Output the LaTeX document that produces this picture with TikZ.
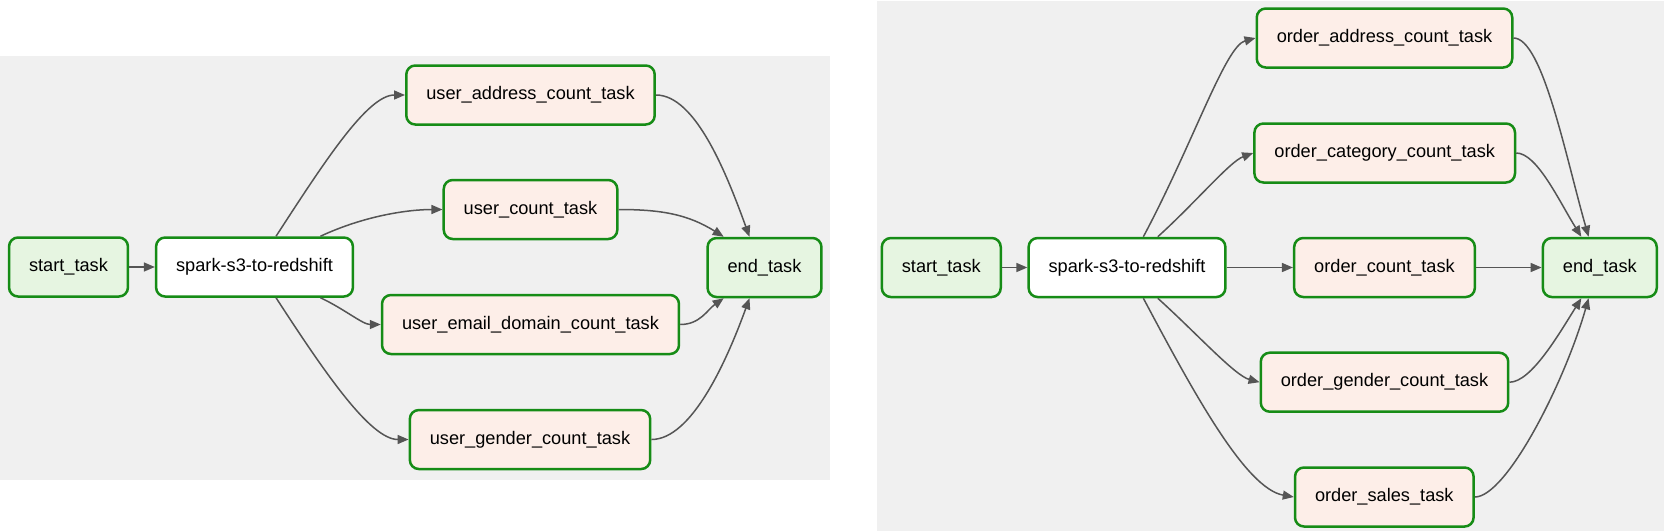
\documentclass[tikz,border=0pt]{standalone}
\usepackage{fontspec}
\setmainfont{Liberation Sans}
\usetikzlibrary{arrows.meta}
\definecolor{dagbg}{HTML}{F0F0F0}
\definecolor{taskgreen}{HTML}{168C16}
\definecolor{dummyfill}{HTML}{E6F5E1}
\definecolor{pyfill}{HTML}{FDEEE8}
\definecolor{edgegray}{HTML}{555555}
\tikzstyle{task}=[draw=taskgreen, line width=2.5pt, rounded corners=9pt, fill=pyfill, minimum height=59pt, inner xsep=20pt, text height=13pt, text depth=4pt, font=\fontsize{18.2}{22}\selectfont]
\tikzstyle{dummy}=[task, fill=dummyfill]
\tikzstyle{spark}=[task, fill=white]
\tikzstyle{dep}=[draw=edgegray, line width=1.5pt, -{Triangle[length=11pt,width=9pt]}]

\begin{document}
\begin{tikzpicture}[x=1pt, y=1pt]
	\fill[white] (0, 0) rectangle (1664, -531);
	\useasboundingbox (0, 0) rectangle (1664, -531);
	\fill[dagbg] (0, -56) rectangle (830, -480);
	\fill[dagbg] (877, -1) rectangle (1664, -531);
	\node(lstart)[dummy] at (68.5, -267) {start\_task};
	\node(lspark)[spark] at (254.5, -267) {spark-s3-to-redshift};
	\node(laddr)[task] at (530.5, -95) {user\_address\_count\_task};
	\node(lcount)[task] at (530.5, -209.5) {user\_count\_task};
	\node(lemail)[task] at (530.5, -324.5) {user\_email\_domain\_count\_task};
	\node(lgender)[task] at (530, -439.5) {user\_gender\_count\_task};
	\node(lend)[dummy] at (764.5, -267.5) {end\_task};
	\node(rstart)[dummy] at (941.3, -267.5) {start\_task};
	\node(rspark)[spark] at (1127, -267.5) {spark-s3-to-redshift};
	\node(raddr)[task] at (1384.5, -38) {order\_address\_count\_task};
	\node(rcat)[task] at (1384.7, -153) {order\_category\_count\_task};
	\node(rcount)[task] at (1384.5, -267.5) {order\_count\_task};
	\node(rgender)[task] at (1384.5, -382.2) {order\_gender\_count\_task};
	\node(rsales)[task] at (1384.3, -497) {order\_sales\_task};
	\node(rend)[dummy] at (1599.8, -267.5) {end\_task};
	\draw[dep] (lstart) -- (lspark);
	\draw[dep] (lspark.55) to[out=57, in=180, out looseness=1.2, in looseness=0.5] (laddr.west);
	\draw[dep] (lspark.25) to[out=25, in=180, in looseness=0.7] (lcount.west);
	\draw[dep] (lspark.-25) to[out=-25, in=180, in looseness=0.7] (lemail.west);
	\draw[dep] (lspark.-55) to[out=-57, in=180, out looseness=1.2, in looseness=0.5] (lgender.west);
	\draw[dep] (laddr.east) to[out=0, in=110, out looseness=0.6] (lend.116);
	\draw[dep] (lcount.east) to[out=0, in=148] (lend.143);
	\draw[dep] (lemail.east) to[out=0, in=-145] (lend.-143);
	\draw[dep] (lgender.east) to[out=0, in=-110, out looseness=0.6] (lend.-116);
	\draw[dep] (rstart) -- (rspark);
	\draw[dep] (rspark.62) to[out=62, in=195, out looseness=1.2, in looseness=0.35] (raddr.west);
	\draw[dep] (rspark.45) to[out=42, in=200, in looseness=0.5] (rcat.west);
	\draw[dep] (rspark) -- (rcount);
	\draw[dep] (rspark.-45) to[out=-42, in=165, in looseness=0.5] (rgender.west);
	\draw[dep] (rspark.-62) to[out=-62, in=170, out looseness=1.1, in looseness=0.5] (rsales.west);
	\draw[dep] (raddr.east) to[out=0, in=106, out looseness=0.35] (rend.110);
	\draw[dep] (rcat.east) to[out=0, in=122, out looseness=0.5] (rend.121);
	\draw[dep] (rcount) -- (rend);
	\draw[dep] (rgender.east) to[out=0, in=-122, out looseness=0.5] (rend.-121);
	\draw[dep] (rsales.east) to[out=0, in=-106, out looseness=0.35] (rend.-110);
\end{tikzpicture}
\end{document}
